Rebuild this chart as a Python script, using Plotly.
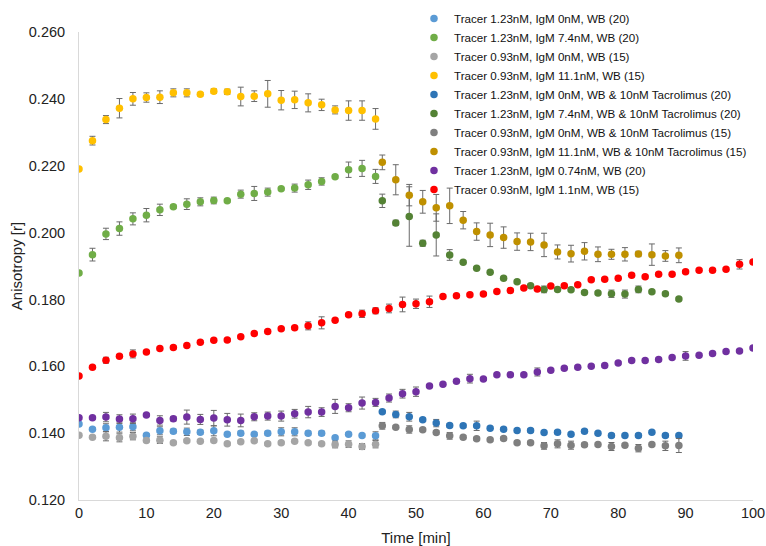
import plotly.graph_objects as go

# Time axes (min)
t_wb = list(range(0, 45, 2))          # 0..44
t_tac = list(range(45, 90, 2))        # 45..89
t_full = list(range(0, 101, 2))       # 0..100

names = [
    "Tracer 1.23nM, IgM 0nM, WB (20)",
    "Tracer 1.23nM, IgM 7.4nM, WB (20)",
    "Tracer 0.93nM, IgM 0nM, WB (15)",
    "Tracer 0.93nM, IgM 11.1nM, WB (15)",
    "Tracer 1.23nM, IgM 0nM, WB & 10nM Tacrolimus (20)",
    "Tracer 1.23nM, IgM 7.4nM, WB & 10nM Tacrolimus (20)",
    "Tracer 0.93nM, IgM 0nM, WB & 10nM Tacrolimus (15)",
    "Tracer 0.93nM, IgM 11.1nM, WB & 10nM Tacrolimus (15)",
    "Tracer 1.23nM, IgM 0.74nM, WB (20)",
    "Tracer 0.93nM, IgM 1.1nM, WB (15)",
]
colors = ["#5B9BD5", "#70AD47", "#A5A5A5", "#FFC000",
          "#2E75B6", "#548235", "#7F7F7F", "#BF9000",
          "#7030A0", "#FF0000"]

blue_wb = [0.1427, 0.1412, 0.1416, 0.1418, 0.1419, 0.1394, 0.1407, 0.1406, 0.1404, 0.1403, 0.1407, 0.1397,
           0.1400, 0.1397, 0.1400, 0.1404, 0.1404, 0.1400, 0.1400, 0.1386, 0.1397, 0.1393, 0.1392]
blue_wb_err = [0.0004, 0.0004, 0.0012, 0.0015, 0.0012, 0.0004, 0.0012, 0.0006, 0.0011, 0.0006, 0.0015, 0.0004,
               0.0006, 0.0004, 0.0006, 0.0012, 0.0012, 0.0006, 0.0006, 0.0004, 0.0004, 0.0004, 0.0012]

green_wb = [0.1879, 0.1934, 0.1996, 0.2012, 0.2041, 0.2052, 0.2068, 0.2077, 0.2085, 0.2092, 0.2096, 0.2095,
            0.2115, 0.2117, 0.2121, 0.2131, 0.2133, 0.2143, 0.2153, 0.2167, 0.2188, 0.2192, 0.2168]
green_wb_err = [0.0, 0.0019, 0.0017, 0.0020, 0.0018, 0.0020, 0.0017, 0.0005, 0.0016, 0.0012, 0.0010, 0.0004,
                0.0012, 0.0021, 0.0012, 0.0004, 0.0012, 0.0014, 0.0011, 0.0004, 0.0023, 0.0024, 0.0021]

gray_wb = [0.1394, 0.1388, 0.1391, 0.1386, 0.1391, 0.1378, 0.1379, 0.1371, 0.1377, 0.1376, 0.1378, 0.1368,
           0.1374, 0.1377, 0.1368, 0.1371, 0.1376, 0.1371, 0.1368, 0.1366, 0.1367, 0.1360, 0.1367]
gray_wb_err = [0.0004, 0.0004, 0.0014, 0.0012, 0.0011, 0.0004, 0.0010, 0.0004, 0.0004, 0.0004, 0.0004, 0.0004,
               0.0004, 0.0004, 0.0004, 0.0004, 0.0004, 0.0004, 0.0004, 0.0010, 0.0010, 0.0009, 0.0011]

yellow_wb = [0.2190, 0.2275, 0.2338, 0.2372, 0.2400, 0.2404, 0.2405, 0.2418, 0.2418, 0.2414, 0.2423, 0.2421,
             0.2407, 0.2408, 0.2415, 0.2396, 0.2397, 0.2388, 0.2382, 0.2367, 0.2365, 0.2365, 0.2340]
yellow_wb_err = [0.0, 0.0013, 0.0012, 0.0029, 0.0019, 0.0014, 0.0019, 0.0012, 0.0012, 0.0005, 0.0007, 0.0008,
                 0.0028, 0.0016, 0.0040, 0.0029, 0.0026, 0.0027, 0.0017, 0.0012, 0.0029, 0.0029, 0.0031]

blue_tac = [0.1464, 0.1456, 0.1449, 0.1440, 0.1430, 0.1423, 0.1422, 0.1422, 0.1415, 0.1412, 0.1408, 0.1408,
            0.1402, 0.1403, 0.1397, 0.1406, 0.1400, 0.1393, 0.1393, 0.1393, 0.1403, 0.1393, 0.1393]
blue_tac_err = [0.0004, 0.0010, 0.0013, 0.0005, 0.0011, 0.0005, 0.0005, 0.0014, 0.0005, 0.0005, 0.0005, 0.0005,
                0.0005, 0.0005, 0.0005, 0.0005, 0.0005, 0.0005, 0.0005, 0.0005, 0.0005, 0.0005, 0.0005]

green_tac = [0.2095, 0.2029, 0.2048, 0.1968, 0.1993, 0.1933, 0.1911, 0.1893, 0.1881, 0.1863, 0.1853, 0.1841,
             0.1830, 0.1830, 0.1829, 0.1821, 0.1819, 0.1817, 0.1816, 0.1830, 0.1823, 0.1817, 0.1801]
green_tac_err = [0.0020, 0.0008, 0.0089, 0.0009, 0.0063, 0.0016, 0.0004, 0.0004, 0.0004, 0.0004, 0.0004, 0.0004,
                 0.0010, 0.0004, 0.0004, 0.0004, 0.0004, 0.0011, 0.0012, 0.0010, 0.0004, 0.0004, 0.0004]

gray_tac = [0.1422, 0.1418, 0.1411, 0.1410, 0.1402, 0.1392, 0.1388, 0.1383, 0.1380, 0.1384, 0.1371, 0.1371,
            0.1362, 0.1368, 0.1364, 0.1365, 0.1366, 0.1360, 0.1364, 0.1355, 0.1366, 0.1362, 0.1363]
gray_tac_err = [0.0010, 0.0004, 0.0011, 0.0005, 0.0005, 0.0010, 0.0005, 0.0005, 0.0005, 0.0005, 0.0005, 0.0005,
                0.0010, 0.0012, 0.0012, 0.0005, 0.0005, 0.0012, 0.0005, 0.0011, 0.0005, 0.0014, 0.0021]

yellow_tac = [0.2210, 0.2158, 0.2112, 0.2092, 0.2074, 0.2080, 0.2037, 0.2003, 0.1993, 0.1985, 0.1973, 0.1972,
              0.1963, 0.1942, 0.1937, 0.1944, 0.1935, 0.1935, 0.1935, 0.1936, 0.1934, 0.1930, 0.1932]
yellow_tac_err = [0.0022, 0.0045, 0.0032, 0.0034, 0.0040, 0.0053, 0.0026, 0.0026, 0.0035, 0.0032, 0.0026, 0.0026,
                  0.0035, 0.0021, 0.0025, 0.0026, 0.0022, 0.0015, 0.0020, 0.0008, 0.0032, 0.0016, 0.0022]

purple_full = [0.1446, 0.1446, 0.1448, 0.1442, 0.1443, 0.1454, 0.1438, 0.1443, 0.1448, 0.1441, 0.1445, 0.1440,
               0.1438, 0.1449, 0.1451, 0.1451, 0.1458, 0.1463, 0.1463, 0.1480, 0.1476, 0.1490, 0.1492, 0.1505,
               0.1518, 0.1524, 0.1541, 0.1546, 0.1555, 0.1563, 0.1562, 0.1575, 0.1575, 0.1575, 0.1583, 0.1588,
               0.1594, 0.1597, 0.1600, 0.1602, 0.1610, 0.1617, 0.1617, 0.1620, 0.1626, 0.1631, 0.1633, 0.1638,
               0.1644, 0.1646, 0.1655]
purple_full_err = [0.0004, 0.0004, 0.0014, 0.0013, 0.0014, 0.0004, 0.0014, 0.0007, 0.0021, 0.0015, 0.0023, 0.0019,
                   0.0019, 0.0012, 0.0012, 0.0015, 0.0013, 0.0017, 0.0013, 0.0021, 0.0012, 0.0018, 0.0012, 0.0012,
                   0.0013, 0.0014, 0.0004, 0.0004, 0.0004, 0.0013, 0.0004, 0.0004, 0.0004, 0.0004, 0.0012, 0.0004,
                   0.0004, 0.0004, 0.0004, 0.0004, 0.0004, 0.0004, 0.0004, 0.0004, 0.0004, 0.0013, 0.0004, 0.0004,
                   0.0004, 0.0004, 0.0004]

red_full = [0.1571, 0.1597, 0.1618, 0.1630, 0.1637, 0.1643, 0.1653, 0.1656, 0.1662, 0.1672, 0.1678, 0.1679,
            0.1688, 0.1698, 0.1704, 0.1712, 0.1715, 0.1721, 0.1730, 0.1738, 0.1754, 0.1757, 0.1766, 0.1773,
            0.1785, 0.1787, 0.1793, 0.1809, 0.1811, 0.1814, 0.1816, 0.1824, 0.1827, 0.1834, 0.1831, 0.1840,
            0.1841, 0.1844, 0.1859, 0.1860, 0.1863, 0.1872, 0.1868, 0.1875, 0.1875, 0.1883, 0.1887, 0.1887,
            0.1890, 0.1905, 0.1912]
red_full_err = [0.0004, 0.0004, 0.0009, 0.0004, 0.0012, 0.0004, 0.0004, 0.0004, 0.0004, 0.0004, 0.0004, 0.0004,
                0.0004, 0.0004, 0.0004, 0.0004, 0.0004, 0.0012, 0.0018, 0.0004, 0.0004, 0.0011, 0.0009, 0.0013,
                0.0022, 0.0014, 0.0017, 0.0004, 0.0004, 0.0004, 0.0004, 0.0004, 0.0004, 0.0004, 0.0004, 0.0004,
                0.0004, 0.0004, 0.0004, 0.0004, 0.0004, 0.0004, 0.0004, 0.0004, 0.0004, 0.0004, 0.0004, 0.0004,
                0.0004, 0.0014, 0.0004]

series = [
    (t_wb, blue_wb, blue_wb_err),
    (t_wb, green_wb, green_wb_err),
    (t_wb, gray_wb, gray_wb_err),
    (t_wb, yellow_wb, yellow_wb_err),
    (t_tac, blue_tac, blue_tac_err),
    (t_tac, green_tac, green_tac_err),
    (t_tac, gray_tac, gray_tac_err),
    (t_tac, yellow_tac, yellow_tac_err),
    (t_full, purple_full, purple_full_err),
    (t_full, red_full, red_full_err),
]

y_ticks = [0.120, 0.140, 0.160, 0.180, 0.200, 0.220, 0.240, 0.260]
x_ticks = [0, 10, 20, 30, 40, 50, 60, 70, 80, 90, 100]

fig = go.Figure()
for (t, y, e), name, col in zip(series, names, colors):
    fig.add_trace(go.Scatter(
        x=t, y=y, mode="markers", name=name,
        marker=dict(color=col, size=7.5, symbol="circle"),
        error_y=dict(type="data", array=e, visible=True, color="#6A6A6A", thickness=1, width=3),
    ))

fig.update_layout(
    width=766, height=546,
    margin=dict(l=79, r=13, t=32, b=46, autoexpand=False),
    paper_bgcolor="white", plot_bgcolor="white",
    font=dict(family="Liberation Sans, Arial, sans-serif", color="#333333", size=12),
    legend=dict(
        x=0.497, y=1.06, xanchor="left", yanchor="top",
        font=dict(size=11.6, color="#111111"),
        bgcolor="rgba(0,0,0,0)", tracegroupgap=0, itemwidth=30,
    ),
    showlegend=True,
)
fig.update_xaxes(
    range=[0, 100], tickvals=x_ticks, ticktext=[str(v) for v in x_ticks],
    showgrid=False, zeroline=False, showline=True, linecolor="#D9D9D9", linewidth=1,
    ticks="", tickfont=dict(size=14.5, color="#222222"), automargin=False,
    title=dict(text="Time [min]", font=dict(size=15, color="#222222"), standoff=13),
)
fig.update_yaxes(
    range=[0.120, 0.260], tickvals=y_ticks, ticktext=[f"{v:.3f}" for v in y_ticks],
    showgrid=False, zeroline=False, showline=True, linecolor="#D9D9D9", linewidth=1,
    ticks="", tickfont=dict(size=14.5, color="#222222"), automargin=False, ticklabelstandoff=10,
    title=dict(text="Anisotropy [r]", font=dict(size=15, color="#222222"), standoff=2),
)

# Remove the default 8px page margin so the figure fills the window exactly
fig.write_html(
    "out.html",
    config={"displayModeBar": False},
    post_script="document.body.style.margin='0px';document.body.style.overflow='hidden';"
                "document.documentElement.style.overflow='hidden';",
)
